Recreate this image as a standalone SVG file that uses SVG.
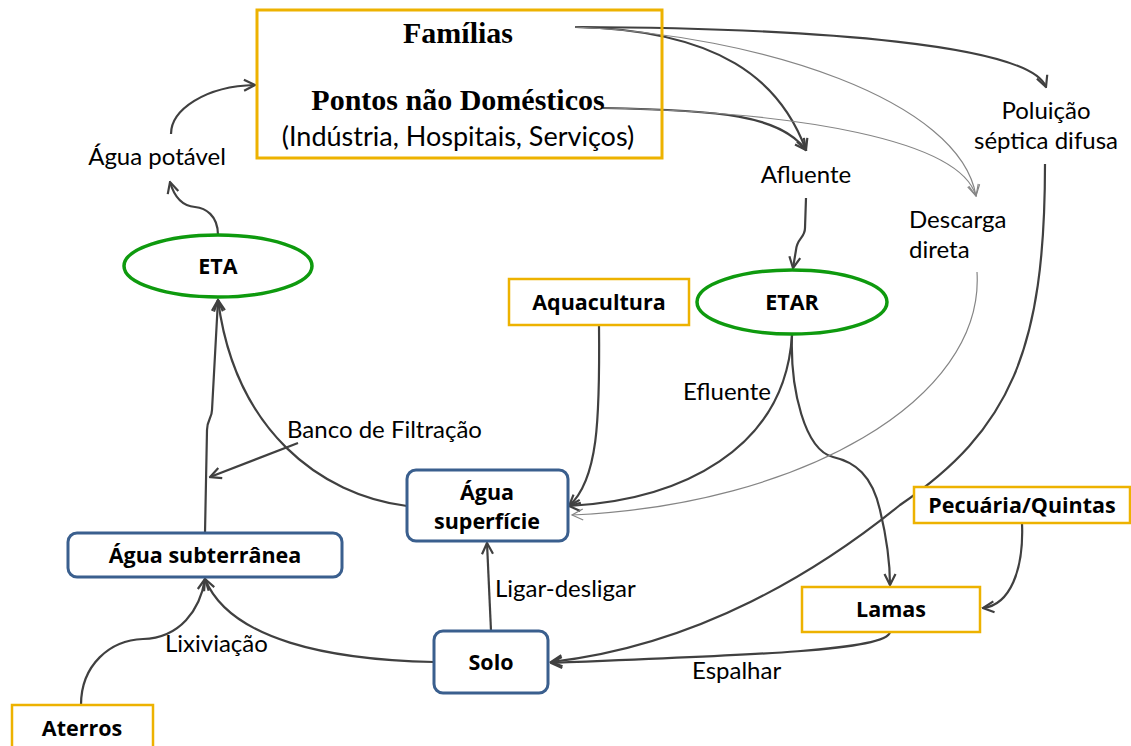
<svg xmlns="http://www.w3.org/2000/svg" width="1131" height="746" viewBox="0 0 1131 746">
<defs>
<style>
.lbl{font-family:Lato,"Open Sans","Liberation Sans",sans-serif;font-size:24px;fill:#000}
.b{font-family:"Open Sans",Lato,"Liberation Sans",sans-serif;font-size:21.5px;font-weight:bold;fill:#000;text-anchor:middle}
.ser{font-family:"Liberation Serif","Times New Roman",serif;font-size:30px;font-weight:bold;fill:#000;text-anchor:middle}
.ybox{fill:#fff;stroke:#EDB200;stroke-width:2.5}
.bbox{fill:#fff;stroke:#3A5F8E;stroke-width:3}
.ell{fill:#fff;stroke:#0E9A0E;stroke-width:3.5}
.c{fill:none;stroke:#404040;stroke-width:2.2;marker-end:url(#ah)}
.t{fill:none;stroke:#858585;stroke-width:1.2;marker-end:url(#aht)}
</style>
<marker id="ah" viewBox="0 0 14 14" refX="12.5" refY="7" markerWidth="14" markerHeight="14" markerUnits="userSpaceOnUse" orient="auto">
<path d="M1.5,1.5 L12.5,7 L1.5,12.5" fill="none" stroke="#404040" stroke-width="2.2"/>
</marker>
<marker id="aht" viewBox="0 0 14 14" refX="12.5" refY="7" markerWidth="14" markerHeight="14" markerUnits="userSpaceOnUse" orient="auto">
<path d="M1.5,1.5 L12.5,7 L1.5,12.5" fill="none" stroke="#858585" stroke-width="1.2"/>
</marker>
</defs>
<rect width="1131" height="746" fill="#fff"/>

<g id="connectors">
<path class="c" d="M171,134 C171,110 205,86 255,85"/>
<path class="c" d="M218,235 C218,215 205,208 195,207 C182,206 174,196 170,182"/>
<path class="c" d="M205,533 L207,430 C207,420 212,418 212,410 L218,300"/>
<path class="c" d="M407,506 C320,495 235,430 218,300"/>
<path class="c" d="M298,443 L210,477"/>
<path class="c" d="M599,325 C600,420 598,480 569,506"/>
<path class="c" d="M792,335 C785,450 680,500 569,506"/>
<path class="c" d="M792,335 C790,390 805,450 833,457 C855,462 872,475 880,510 C886,535 890,560 890,585"/>
<path class="t" d="M977,272 C985,400 800,505 572,515"/>
<path class="c" d="M1045,164 C1045,350 1010,430 900,505 C820,570 700,645 551,662"/>
<path class="c" d="M890,632 C887,650 760,655 551,663"/>
<path class="c" d="M1022,523 C1024,570 1010,605 983,608"/>
<path class="c" d="M491,631 L487,543"/>
<path class="c" d="M434,662 C330,660 230,640 205,579"/>
<path class="c" d="M81,705 C81,665 110,640 143,639 C180,638 200,610 205,579"/>
<path class="c" d="M806,198 L805,228 C805,238 797,238 796,250 L793,268"/>
<path class="c" d="M575,27 C720,30 780,80 806,150"/>
<path class="c" d="M603,108 C720,110 780,115 806,150"/>
<path class="c" d="M575,27 C820,28 1030,45 1046,87"/>
<path class="t" d="M575,27 C760,35 960,100 976,196"/>
<path class="t" d="M603,108 C800,112 960,140 976,196"/>
</g>

<g id="familias">
<rect x="257" y="10" width="405" height="148" style="fill:none;stroke:#EDB200;stroke-width:3"/>
<text class="ser" x="458" y="43">Famílias</text>
<text class="ser" x="458" y="110">Pontos não Domésticos</text>
<text class="lbl" x="458" y="146" text-anchor="middle" style="font-size:27px">(Indústria, Hospitais, Serviços)</text>
</g>

<g id="agua-potavel"><text class="lbl" x="157" y="165" text-anchor="middle">Água potável</text></g>
<g id="afluente"><text class="lbl" x="806" y="183" text-anchor="middle">Afluente</text></g>
<g id="descarga"><text class="lbl" x="909" y="228">Descarga</text><text class="lbl" x="909" y="258">direta</text></g>
<g id="poluicao"><text class="lbl" x="1046" y="119" text-anchor="middle">Poluição</text><text class="lbl" x="1046" y="149" text-anchor="middle">séptica difusa</text></g>
<g id="lbl-efluente"><text class="lbl" x="683" y="400">Efluente</text></g>
<g id="lbl-banco"><text class="lbl" x="287" y="438">Banco de Filtração</text></g>
<g id="lbl-ligar"><text class="lbl" x="495" y="597">Ligar-desligar</text></g>
<g id="lbl-lix"><text class="lbl" x="165" y="652">Lixiviação</text></g>
<g id="lbl-espalhar"><text class="lbl" x="692" y="679">Espalhar</text></g>

<g id="eta"><ellipse class="ell" cx="218" cy="266" rx="94" ry="31"/><text class="b" x="218" y="274">ETA</text></g>
<g id="etar"><ellipse class="ell" cx="792" cy="302" rx="95" ry="32"/><text class="b" x="792" y="310">ETAR</text></g>
<g id="aquacultura"><rect class="ybox" x="509" y="279" width="180" height="46"/><text class="b" x="599" y="310">Aquacultura</text></g>
<g id="agua-superficie"><rect class="bbox" x="407" y="470" width="161" height="71" rx="9"/><text class="b" x="487" y="500">Água</text><text class="b" x="487" y="529">superfície</text></g>
<g id="agua-subterranea"><rect class="bbox" x="68" y="533" width="274" height="44" rx="9"/><text class="b" x="205" y="563">Água subterrânea</text></g>
<g id="solo"><rect class="bbox" x="434" y="631" width="114" height="62" rx="9"/><text class="b" x="491" y="670">Solo</text></g>
<g id="aterros"><rect class="ybox" x="12" y="705" width="141" height="50"/><text class="b" x="82" y="736">Aterros</text></g>
<g id="lamas"><rect class="ybox" x="802" y="587" width="178" height="45"/><text class="b" x="891" y="617">Lamas</text></g>
<g id="pecuaria"><rect class="ybox" x="914" y="487" width="216" height="36"/><text class="b" x="1022" y="513">Pecuária/Quintas</text></g>
</svg>
